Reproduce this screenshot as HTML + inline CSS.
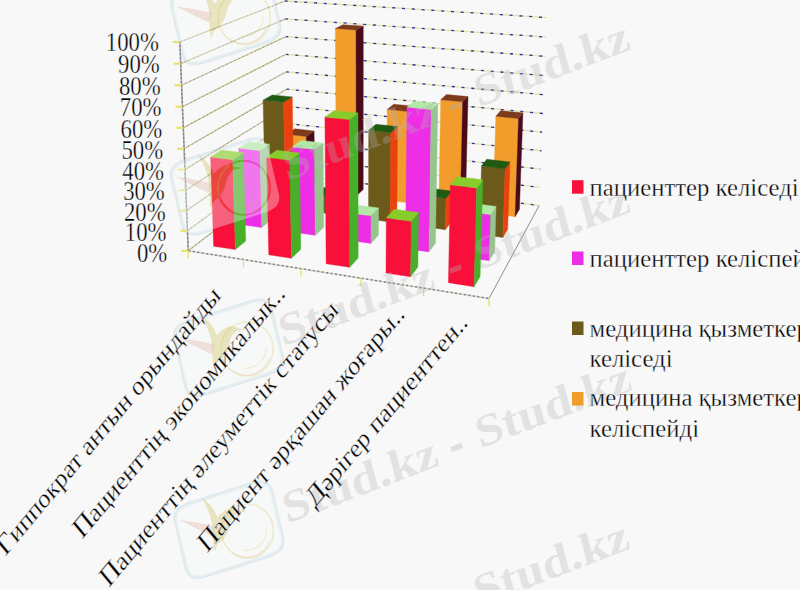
<!DOCTYPE html>
<html><head><meta charset="utf-8"><style>
html,body{margin:0;padding:0;background:#F8F8F8;}
body{width:800px;height:590px;overflow:hidden;position:relative;}
svg{position:absolute;left:0;top:0;}
text{font-family:"Liberation Serif",serif;fill:#000;stroke:#F8F8F8;stroke-width:0.3px;}
.wm text{fill:#B2B2B2;fill-opacity:0.32;stroke:none;}
</style></head><body>
<svg width="800" height="590" viewBox="0 0 800 590">
<rect width="800" height="590" fill="#F8F8F8"/>
<path transform="matrix(0.96,-0.305,0.17,0.72,169.30,-4.50)" d="M18,0 H82 Q100,0 100,18 V82 Q100,100 82,100 H18 Q0,100 0,82 V18 Q0,0 18,0 Z" fill="none" stroke="rgb(214,228,234)" stroke-opacity="0.7" stroke-width="3.6" vector-effect="non-scaling-stroke"/>
<path transform="matrix(0.96,-0.305,0.17,0.72,168.90,165.70)" d="M18,0 H82 Q100,0 100,18 V82 Q100,100 82,100 H18 Q0,100 0,82 V18 Q0,0 18,0 Z" fill="none" stroke="rgb(214,228,234)" stroke-opacity="0.7" stroke-width="3.6" vector-effect="non-scaling-stroke"/>
<path transform="matrix(0.96,-0.305,0.17,0.72,172.00,327.00)" d="M18,0 H82 Q100,0 100,18 V82 Q100,100 82,100 H18 Q0,100 0,82 V18 Q0,0 18,0 Z" fill="none" stroke="rgb(214,228,234)" stroke-opacity="0.7" stroke-width="3.6" vector-effect="non-scaling-stroke"/>
<path transform="matrix(0.96,-0.305,0.17,0.72,172.50,509.00)" d="M18,0 H82 Q100,0 100,18 V82 Q100,100 82,100 H18 Q0,100 0,82 V18 Q0,0 18,0 Z" fill="none" stroke="rgb(214,228,234)" stroke-opacity="0.7" stroke-width="3.6" vector-effect="non-scaling-stroke"/>
<line x1="288.08" y1="174.05" x2="539.17" y2="205.51" stroke="#E4E0A8" stroke-width="1.3"/>
<line x1="288.08" y1="174.05" x2="539.17" y2="205.51" stroke="#3030A0" stroke-width="1.3" stroke-dasharray="3 6.8" stroke-dashoffset="0.5"/>
<line x1="187.45" y1="230.79" x2="287.80" y2="157.34" stroke="#C2BE8A" stroke-width="1.2"/>
<line x1="187.45" y1="230.79" x2="287.80" y2="157.34" stroke="#4848A0" stroke-width="1.2" stroke-dasharray="1 3.5" stroke-opacity="0.4"/>
<line x1="287.80" y1="157.34" x2="539.90" y2="187.41" stroke="#E4E0A8" stroke-width="1.3"/>
<line x1="287.80" y1="157.34" x2="539.90" y2="187.41" stroke="#3030A0" stroke-width="1.3" stroke-dasharray="3 6.8" stroke-dashoffset="0.5"/>
<line x1="186.63" y1="210.59" x2="287.52" y2="140.50" stroke="#C2BE8A" stroke-width="1.2"/>
<line x1="186.63" y1="210.59" x2="287.52" y2="140.50" stroke="#4848A0" stroke-width="1.2" stroke-dasharray="1 3.5" stroke-opacity="0.4"/>
<line x1="287.52" y1="140.50" x2="540.65" y2="169.17" stroke="#E4E0A8" stroke-width="1.3"/>
<line x1="287.52" y1="140.50" x2="540.65" y2="169.17" stroke="#3030A0" stroke-width="1.3" stroke-dasharray="3 6.8" stroke-dashoffset="0.5"/>
<line x1="185.81" y1="190.20" x2="287.23" y2="123.53" stroke="#C2BE8A" stroke-width="1.2"/>
<line x1="185.81" y1="190.20" x2="287.23" y2="123.53" stroke="#4848A0" stroke-width="1.2" stroke-dasharray="1 3.5" stroke-opacity="0.4"/>
<line x1="287.23" y1="123.53" x2="541.39" y2="150.77" stroke="#E4E0A8" stroke-width="1.3"/>
<line x1="287.23" y1="123.53" x2="541.39" y2="150.77" stroke="#3030A0" stroke-width="1.3" stroke-dasharray="3 6.8" stroke-dashoffset="0.5"/>
<line x1="184.98" y1="169.62" x2="286.94" y2="106.43" stroke="#C2BE8A" stroke-width="1.2"/>
<line x1="184.98" y1="169.62" x2="286.94" y2="106.43" stroke="#4848A0" stroke-width="1.2" stroke-dasharray="1 3.5" stroke-opacity="0.4"/>
<line x1="286.94" y1="106.43" x2="542.15" y2="132.22" stroke="#E4E0A8" stroke-width="1.3"/>
<line x1="286.94" y1="106.43" x2="542.15" y2="132.22" stroke="#3030A0" stroke-width="1.3" stroke-dasharray="3 6.8" stroke-dashoffset="0.5"/>
<line x1="184.14" y1="148.84" x2="286.65" y2="89.20" stroke="#C2BE8A" stroke-width="1.2"/>
<line x1="184.14" y1="148.84" x2="286.65" y2="89.20" stroke="#4848A0" stroke-width="1.2" stroke-dasharray="1 3.5" stroke-opacity="0.4"/>
<line x1="286.65" y1="89.20" x2="542.91" y2="113.51" stroke="#E4E0A8" stroke-width="1.3"/>
<line x1="286.65" y1="89.20" x2="542.91" y2="113.51" stroke="#3030A0" stroke-width="1.3" stroke-dasharray="3 6.8" stroke-dashoffset="0.5"/>
<line x1="183.30" y1="127.87" x2="286.36" y2="71.84" stroke="#C2BE8A" stroke-width="1.2"/>
<line x1="183.30" y1="127.87" x2="286.36" y2="71.84" stroke="#4848A0" stroke-width="1.2" stroke-dasharray="1 3.5" stroke-opacity="0.4"/>
<line x1="286.36" y1="71.84" x2="543.67" y2="94.65" stroke="#E4E0A8" stroke-width="1.3"/>
<line x1="286.36" y1="71.84" x2="543.67" y2="94.65" stroke="#3030A0" stroke-width="1.3" stroke-dasharray="3 6.8" stroke-dashoffset="0.5"/>
<line x1="182.44" y1="106.69" x2="286.06" y2="54.33" stroke="#C2BE8A" stroke-width="1.2"/>
<line x1="182.44" y1="106.69" x2="286.06" y2="54.33" stroke="#4848A0" stroke-width="1.2" stroke-dasharray="1 3.5" stroke-opacity="0.4"/>
<line x1="286.06" y1="54.33" x2="544.45" y2="75.62" stroke="#E4E0A8" stroke-width="1.3"/>
<line x1="286.06" y1="54.33" x2="544.45" y2="75.62" stroke="#3030A0" stroke-width="1.3" stroke-dasharray="3 6.8" stroke-dashoffset="0.5"/>
<line x1="181.58" y1="85.32" x2="285.76" y2="36.70" stroke="#C2BE8A" stroke-width="1.2"/>
<line x1="181.58" y1="85.32" x2="285.76" y2="36.70" stroke="#4848A0" stroke-width="1.2" stroke-dasharray="1 3.5" stroke-opacity="0.4"/>
<line x1="285.76" y1="36.70" x2="545.23" y2="56.43" stroke="#E4E0A8" stroke-width="1.3"/>
<line x1="285.76" y1="36.70" x2="545.23" y2="56.43" stroke="#3030A0" stroke-width="1.3" stroke-dasharray="3 6.8" stroke-dashoffset="0.5"/>
<line x1="180.71" y1="63.73" x2="285.46" y2="18.92" stroke="#C2BE8A" stroke-width="1.2"/>
<line x1="180.71" y1="63.73" x2="285.46" y2="18.92" stroke="#4848A0" stroke-width="1.2" stroke-dasharray="1 3.5" stroke-opacity="0.4"/>
<line x1="285.46" y1="18.92" x2="546.01" y2="37.07" stroke="#E4E0A8" stroke-width="1.3"/>
<line x1="285.46" y1="18.92" x2="546.01" y2="37.07" stroke="#3030A0" stroke-width="1.3" stroke-dasharray="3 6.8" stroke-dashoffset="0.5"/>
<line x1="179.83" y1="41.94" x2="285.16" y2="1.00" stroke="#C2BE8A" stroke-width="1.2"/>
<line x1="179.83" y1="41.94" x2="285.16" y2="1.00" stroke="#4848A0" stroke-width="1.2" stroke-dasharray="1 3.5" stroke-opacity="0.4"/>
<line x1="285.16" y1="1.00" x2="546.81" y2="17.55" stroke="#E4E0A8" stroke-width="1.3"/>
<line x1="285.16" y1="1.00" x2="546.81" y2="17.55" stroke="#3030A0" stroke-width="1.3" stroke-dasharray="3 6.8" stroke-dashoffset="0.5"/>
<line x1="188.26" y1="250.80" x2="288.08" y2="174.05" stroke="#C2BE8A" stroke-width="1.2"/>
<line x1="188.26" y1="250.80" x2="288.08" y2="174.05" stroke="#4848A0" stroke-width="1.2" stroke-dasharray="1 3.5" stroke-opacity="0.4"/>
<line x1="188.26" y1="250.80" x2="489.00" y2="298.47" stroke="#DCDAB0" stroke-width="1.5"/>
<line x1="188.26" y1="250.80" x2="489.00" y2="298.47" stroke="#5858A0" stroke-width="1.5" stroke-dasharray="2.2 2.3" stroke-opacity="0.7"/>
<line x1="489.00" y1="298.47" x2="539.17" y2="205.51" stroke="#8C8C98" stroke-width="1.0"/>
<line x1="188.26" y1="250.80" x2="179.83" y2="41.94" stroke="#A8A498" stroke-width="1.5"/>
<line x1="188.26" y1="250.80" x2="179.83" y2="41.94" stroke="#50509C" stroke-width="1.5" stroke-dasharray="1.5 2.5" stroke-opacity="0.6"/>
<line x1="181.26" y1="250.80" x2="188.26" y2="250.80" stroke="#E8E060" stroke-width="2"/>
<line x1="180.45" y1="230.79" x2="187.45" y2="230.79" stroke="#E8E060" stroke-width="2"/>
<line x1="179.63" y1="210.59" x2="186.63" y2="210.59" stroke="#E8E060" stroke-width="2"/>
<line x1="178.81" y1="190.20" x2="185.81" y2="190.20" stroke="#E8E060" stroke-width="2"/>
<line x1="177.98" y1="169.62" x2="184.98" y2="169.62" stroke="#E8E060" stroke-width="2"/>
<line x1="177.14" y1="148.84" x2="184.14" y2="148.84" stroke="#E8E060" stroke-width="2"/>
<line x1="176.30" y1="127.87" x2="183.30" y2="127.87" stroke="#E8E060" stroke-width="2"/>
<line x1="175.44" y1="106.69" x2="182.44" y2="106.69" stroke="#E8E060" stroke-width="2"/>
<line x1="174.58" y1="85.32" x2="181.58" y2="85.32" stroke="#E8E060" stroke-width="2"/>
<line x1="173.71" y1="63.73" x2="180.71" y2="63.73" stroke="#E8E060" stroke-width="2"/>
<line x1="172.83" y1="41.94" x2="179.83" y2="41.94" stroke="#E8E060" stroke-width="2"/>
<line x1="188.26" y1="250.80" x2="188.26" y2="258.80" stroke="#E8E060" stroke-width="1.2"/>
<line x1="243.46" y1="259.55" x2="243.46" y2="267.55" stroke="#E8E060" stroke-width="1.2"/>
<line x1="300.98" y1="268.67" x2="300.98" y2="276.67" stroke="#E8E060" stroke-width="1.2"/>
<line x1="360.97" y1="278.18" x2="360.97" y2="286.18" stroke="#E8E060" stroke-width="1.2"/>
<line x1="423.58" y1="288.10" x2="423.58" y2="296.10" stroke="#E8E060" stroke-width="1.2"/>
<line x1="489.00" y1="298.47" x2="489.00" y2="306.47" stroke="#E8E060" stroke-width="1.2"/>
<polygon points="287.75,187.12 306.99,189.62 306.32,136.49 286.85,134.33" fill="#F29C2C" stroke="#F29C2C" stroke-width="0.4" stroke-linejoin="round"/>
<polygon points="306.99,189.62 314.65,183.21 314.09,130.94 306.32,136.49" fill="#4A0A18" stroke="#4A0A18" stroke-width="0.4" stroke-linejoin="round"/>
<polygon points="286.85,134.33 306.32,136.49 314.09,130.94 294.91,128.85" fill="#7E3A1C" stroke="#7E3A1C" stroke-width="0.4" stroke-linejoin="round"/>
<polygon points="336.36,193.44 356.28,196.03 356.05,29.93 335.38,28.45" fill="#F29C2C" stroke="#F29C2C" stroke-width="0.4" stroke-linejoin="round"/>
<polygon points="356.28,196.03 363.20,189.39 363.24,26.10 356.05,29.93" fill="#4A0A18" stroke="#4A0A18" stroke-width="0.4" stroke-linejoin="round"/>
<polygon points="335.38,28.45 356.05,29.93 363.24,26.10 342.89,24.67" fill="#7E3A1C" stroke="#7E3A1C" stroke-width="0.4" stroke-linejoin="round"/>
<polygon points="386.69,199.98 407.33,202.67 408.27,111.53 387.20,109.45" fill="#F29C2C" stroke="#F29C2C" stroke-width="0.4" stroke-linejoin="round"/>
<polygon points="407.33,202.67 413.45,195.79 414.50,106.19 408.27,111.53" fill="#4A0A18" stroke="#4A0A18" stroke-width="0.4" stroke-linejoin="round"/>
<polygon points="387.20,109.45 408.27,111.53 414.50,106.19 393.77,104.19" fill="#7E3A1C" stroke="#7E3A1C" stroke-width="0.4" stroke-linejoin="round"/>
<polygon points="265.45,204.89 285.47,207.65 283.61,102.17 263.12,100.13" fill="#6B5A1A" stroke="#6B5A1A" stroke-width="0.4" stroke-linejoin="round"/>
<polygon points="285.47,207.65 293.89,200.59 292.27,96.93 283.61,102.17" fill="#E8420E" stroke="#E8420E" stroke-width="0.4" stroke-linejoin="round"/>
<polygon points="263.12,100.13 283.61,102.17 292.27,96.93 272.10,94.96" fill="#1E5A12" stroke="#1E5A12" stroke-width="0.4" stroke-linejoin="round"/>
<polygon points="438.84,206.76 460.23,209.54 462.66,101.82 440.72,99.77" fill="#F29C2C" stroke="#F29C2C" stroke-width="0.4" stroke-linejoin="round"/>
<polygon points="460.23,209.54 465.49,202.42 468.00,96.55 462.66,101.82" fill="#4A0A18" stroke="#4A0A18" stroke-width="0.4" stroke-linejoin="round"/>
<polygon points="440.72,99.77 462.66,101.82 468.00,96.55 446.43,94.57" fill="#7E3A1C" stroke="#7E3A1C" stroke-width="0.4" stroke-linejoin="round"/>
<polygon points="492.91,213.79 515.10,216.67 518.56,118.52 495.84,116.31" fill="#F29C2C" stroke="#F29C2C" stroke-width="0.4" stroke-linejoin="round"/>
<polygon points="515.10,216.67 519.43,209.28 522.91,112.85 518.56,118.52" fill="#4A0A18" stroke="#4A0A18" stroke-width="0.4" stroke-linejoin="round"/>
<polygon points="495.84,116.31 518.56,118.52 522.91,112.85 500.60,110.72" fill="#7E3A1C" stroke="#7E3A1C" stroke-width="0.4" stroke-linejoin="round"/>
<polygon points="316.06,211.85 336.82,214.70 336.72,197.15 315.87,194.42" fill="#6B5A1A" stroke="#6B5A1A" stroke-width="0.4" stroke-linejoin="round"/>
<polygon points="336.82,214.70 344.44,207.39 344.37,190.14 336.72,197.15" fill="#E8420E" stroke="#E8420E" stroke-width="0.4" stroke-linejoin="round"/>
<polygon points="315.87,194.42 336.72,197.15 344.37,190.14 323.85,187.50" fill="#1E5A12" stroke="#1E5A12" stroke-width="0.4" stroke-linejoin="round"/>
<polygon points="368.55,219.07 390.10,222.03 390.67,132.63 368.68,130.29" fill="#6B5A1A" stroke="#6B5A1A" stroke-width="0.4" stroke-linejoin="round"/>
<polygon points="390.10,222.03 396.85,214.44 397.55,126.62 390.67,132.63" fill="#E8420E" stroke="#E8420E" stroke-width="0.4" stroke-linejoin="round"/>
<polygon points="368.68,130.29 390.67,132.63 397.55,126.62 375.92,124.37" fill="#1E5A12" stroke="#1E5A12" stroke-width="0.4" stroke-linejoin="round"/>
<polygon points="240.87,224.48 261.73,227.53 259.95,150.60 238.73,148.09" fill="#EE2EE6" stroke="#EE2EE6" stroke-width="0.4" stroke-linejoin="round"/>
<polygon points="261.73,227.53 271.04,219.74 269.45,144.17 259.95,150.60" fill="#96C68E" stroke="#96C68E" stroke-width="0.4" stroke-linejoin="round"/>
<polygon points="238.73,148.09 259.95,150.60 269.45,144.17 248.57,141.77" fill="#B2E8A8" stroke="#B2E8A8" stroke-width="0.4" stroke-linejoin="round"/>
<polygon points="423.04,226.55 445.41,229.63 446.01,198.37 423.47,195.51" fill="#6B5A1A" stroke="#6B5A1A" stroke-width="0.4" stroke-linejoin="round"/>
<polygon points="445.41,229.63 451.22,221.76 451.85,191.05 446.01,198.37" fill="#E8420E" stroke="#E8420E" stroke-width="0.4" stroke-linejoin="round"/>
<polygon points="423.47,195.51 446.01,198.37 451.85,191.05 429.70,188.30" fill="#1E5A12" stroke="#1E5A12" stroke-width="0.4" stroke-linejoin="round"/>
<polygon points="479.63,234.33 502.89,237.53 505.13,168.83 481.48,166.12" fill="#6B5A1A" stroke="#6B5A1A" stroke-width="0.4" stroke-linejoin="round"/>
<polygon points="502.89,237.53 507.68,229.35 509.95,161.89 505.13,168.83" fill="#E8420E" stroke="#E8420E" stroke-width="0.4" stroke-linejoin="round"/>
<polygon points="481.48,166.12 505.13,168.83 509.95,161.89 486.74,159.29" fill="#1E5A12" stroke="#1E5A12" stroke-width="0.4" stroke-linejoin="round"/>
<polygon points="293.63,232.18 315.32,235.34 314.39,149.43 292.28,146.88" fill="#EE2EE6" stroke="#EE2EE6" stroke-width="0.4" stroke-linejoin="round"/>
<polygon points="315.32,235.34 323.75,227.25 323.00,142.89 314.39,149.43" fill="#96C68E" stroke="#96C68E" stroke-width="0.4" stroke-linejoin="round"/>
<polygon points="292.28,146.88 314.39,149.43 323.00,142.89 301.27,140.44" fill="#B2E8A8" stroke="#B2E8A8" stroke-width="0.4" stroke-linejoin="round"/>
<polygon points="348.48,240.18 371.02,243.46 371.08,215.82 348.39,212.73" fill="#EE2EE6" stroke="#EE2EE6" stroke-width="0.4" stroke-linejoin="round"/>
<polygon points="371.02,243.46 378.51,235.05 378.61,207.91 371.08,215.82" fill="#96C68E" stroke="#96C68E" stroke-width="0.4" stroke-linejoin="round"/>
<polygon points="348.39,212.73 371.08,215.82 378.61,207.91 356.31,204.94" fill="#B2E8A8" stroke="#B2E8A8" stroke-width="0.4" stroke-linejoin="round"/>
<polygon points="213.63,246.18 235.41,249.56 232.77,159.70 210.56,156.98" fill="#F8103A" stroke="#F8103A" stroke-width="0.4" stroke-linejoin="round"/>
<polygon points="235.41,249.56 245.74,240.91 243.37,152.73 232.77,159.70" fill="#48B028" stroke="#48B028" stroke-width="0.4" stroke-linejoin="round"/>
<polygon points="210.56,156.98 232.77,159.70 243.37,152.73 221.53,150.12" fill="#88CC2C" stroke="#88CC2C" stroke-width="0.4" stroke-linejoin="round"/>
<polygon points="405.52,248.49 428.98,251.91 431.18,109.51 406.94,107.15" fill="#EE2EE6" stroke="#EE2EE6" stroke-width="0.4" stroke-linejoin="round"/>
<polygon points="428.98,251.91 435.43,243.17 437.80,103.47 431.18,109.51" fill="#96C68E" stroke="#96C68E" stroke-width="0.4" stroke-linejoin="round"/>
<polygon points="406.94,107.15 431.18,109.51 437.80,103.47 414.00,101.21" fill="#B2E8A8" stroke="#B2E8A8" stroke-width="0.4" stroke-linejoin="round"/>
<polygon points="268.75,254.74 291.43,258.26 289.81,160.15 266.64,157.36" fill="#F8103A" stroke="#F8103A" stroke-width="0.4" stroke-linejoin="round"/>
<polygon points="291.43,258.26 300.81,249.26 299.44,153.01 289.81,160.15" fill="#48B028" stroke="#48B028" stroke-width="0.4" stroke-linejoin="round"/>
<polygon points="266.64,157.36 289.81,160.15 299.44,153.01 276.67,150.34" fill="#88CC2C" stroke="#88CC2C" stroke-width="0.4" stroke-linejoin="round"/>
<polygon points="464.89,257.15 489.32,260.71 490.68,214.65 465.98,211.43" fill="#EE2EE6" stroke="#EE2EE6" stroke-width="0.4" stroke-linejoin="round"/>
<polygon points="489.32,260.71 494.65,251.61 496.04,206.41 490.68,214.65" fill="#96C68E" stroke="#96C68E" stroke-width="0.4" stroke-linejoin="round"/>
<polygon points="465.98,211.43 490.68,214.65 496.04,206.41 471.81,203.32" fill="#B2E8A8" stroke="#B2E8A8" stroke-width="0.4" stroke-linejoin="round"/>
<polygon points="326.15,263.66 349.79,267.33 349.36,119.53 324.92,117.00" fill="#F8103A" stroke="#F8103A" stroke-width="0.4" stroke-linejoin="round"/>
<polygon points="349.79,267.33 358.13,257.95 358.00,113.05 349.36,119.53" fill="#48B028" stroke="#48B028" stroke-width="0.4" stroke-linejoin="round"/>
<polygon points="324.92,117.00 349.36,119.53 358.00,113.05 334.01,110.63" fill="#88CC2C" stroke="#88CC2C" stroke-width="0.4" stroke-linejoin="round"/>
<polygon points="385.99,272.95 410.64,276.78 411.27,221.23 386.29,217.82" fill="#F8103A" stroke="#F8103A" stroke-width="0.4" stroke-linejoin="round"/>
<polygon points="410.64,276.78 417.85,267.00 418.56,212.53 411.27,221.23" fill="#48B028" stroke="#48B028" stroke-width="0.4" stroke-linejoin="round"/>
<polygon points="386.29,217.82 411.27,221.23 418.56,212.53 394.06,209.28" fill="#88CC2C" stroke="#88CC2C" stroke-width="0.4" stroke-linejoin="round"/>
<polygon points="448.41,282.64 474.14,286.64 476.73,188.02 450.38,184.81" fill="#F8103A" stroke="#F8103A" stroke-width="0.4" stroke-linejoin="round"/>
<polygon points="474.14,286.64 480.12,276.43 482.78,179.80 476.73,188.02" fill="#48B028" stroke="#48B028" stroke-width="0.4" stroke-linejoin="round"/>
<polygon points="450.38,184.81 476.73,188.02 482.78,179.80 456.97,176.73" fill="#88CC2C" stroke="#88CC2C" stroke-width="0.4" stroke-linejoin="round"/>
<defs><mask id="m0" maskUnits="userSpaceOnUse" x="0" y="0" width="800" height="590"><rect width="800" height="590" fill="#fff"/><g transform="translate(244.3,17.5)"><path transform="scale(1.12)" d="M-40.5,-29.6 Q-30,-22 -27,-12 Q-22,-19 -14,-20.5 Q-10,-20.5 -8,-18.5 L-1,-17.5 L-9,-16 Q-15,-12 -16,-4 Q-18,6 -27,12 L-30,19 Q-31,8 -31,-2 Q-32,-14 -40.5,-29.6 Z" fill="#000"/><ellipse rx="26" ry="27" fill="none" stroke="#000" stroke-width="2"/></g></mask><mask id="m1" maskUnits="userSpaceOnUse" x="0" y="0" width="800" height="590"><rect width="800" height="590" fill="#fff"/><g transform="translate(243.9,187.7)"><path transform="scale(1.12)" d="M-40.5,-29.6 Q-30,-22 -27,-12 Q-22,-19 -14,-20.5 Q-10,-20.5 -8,-18.5 L-1,-17.5 L-9,-16 Q-15,-12 -16,-4 Q-18,6 -27,12 L-30,19 Q-31,8 -31,-2 Q-32,-14 -40.5,-29.6 Z" fill="#000"/><ellipse rx="26" ry="27" fill="none" stroke="#000" stroke-width="2"/></g></mask><mask id="m2" maskUnits="userSpaceOnUse" x="0" y="0" width="800" height="590"><rect width="800" height="590" fill="#fff"/><g transform="translate(247,349)"><path transform="scale(1.12)" d="M-40.5,-29.6 Q-30,-22 -27,-12 Q-22,-19 -14,-20.5 Q-10,-20.5 -8,-18.5 L-1,-17.5 L-9,-16 Q-15,-12 -16,-4 Q-18,6 -27,12 L-30,19 Q-31,8 -31,-2 Q-32,-14 -40.5,-29.6 Z" fill="#000"/><ellipse rx="26" ry="27" fill="none" stroke="#000" stroke-width="2"/></g></mask><mask id="m3" maskUnits="userSpaceOnUse" x="0" y="0" width="800" height="590"><rect width="800" height="590" fill="#fff"/><g transform="translate(247.5,531)"><path transform="scale(1.12)" d="M-40.5,-29.6 Q-30,-22 -27,-12 Q-22,-19 -14,-20.5 Q-10,-20.5 -8,-18.5 L-1,-17.5 L-9,-16 Q-15,-12 -16,-4 Q-18,6 -27,12 L-30,19 Q-31,8 -31,-2 Q-32,-14 -40.5,-29.6 Z" fill="#000"/><ellipse rx="26" ry="27" fill="none" stroke="#000" stroke-width="2"/></g></mask></defs>
<g mask="url(#m0)"><path transform="matrix(0.96,-0.305,0.17,0.72,169.30,-4.50)" d="M18,0 H82 Q100,0 100,18 V82 Q100,100 82,100 H18 Q0,100 0,82 V18 Q0,0 18,0 Z" fill="rgb(246,250,250)" fill-opacity="0.35"/></g>
<g transform="translate(244.3,17.5)">
<path transform="scale(1.12)" d="M-61,-10 Q-46,-8 -29,-4 L-31,5 Q-46,-2 -61,-10 Z" fill="rgb(225,169,156)" fill-opacity="0.32"/>
<path transform="scale(1.12)" d="M-40.5,-29.6 Q-30,-22 -27,-12 Q-22,-19 -14,-20.5 Q-10,-20.5 -8,-18.5 L-1,-17.5 L-9,-16 Q-15,-12 -16,-4 Q-18,6 -27,12 L-30,19 Q-31,8 -31,-2 Q-32,-14 -40.5,-29.6 Z" fill="rgb(200,188,75)" fill-opacity="0.32"/>
<ellipse cx="0" cy="0" rx="26" ry="27" fill="none" stroke="rgb(205,200,70)" stroke-opacity="0.25" stroke-width="1.6"/>
<path d="M-14,22 A24,24 0 0 0 22,10" fill="none" stroke="rgb(230,170,160)" stroke-opacity="0.25" stroke-width="1.3"/>
<path d="M-4,19 A20,20 0 0 0 19,-2" fill="none" stroke="rgb(205,200,70)" stroke-opacity="0.22" stroke-width="1.2"/>
</g>
<g mask="url(#m1)"><path transform="matrix(0.96,-0.305,0.17,0.72,168.90,165.70)" d="M18,0 H82 Q100,0 100,18 V82 Q100,100 82,100 H18 Q0,100 0,82 V18 Q0,0 18,0 Z" fill="rgb(246,250,250)" fill-opacity="0.35"/></g>
<g transform="translate(243.9,187.7)">
<path transform="scale(1.12)" d="M-61,-10 Q-46,-8 -29,-4 L-31,5 Q-46,-2 -61,-10 Z" fill="rgb(225,169,156)" fill-opacity="0.32"/>
<path transform="scale(1.12)" d="M-40.5,-29.6 Q-30,-22 -27,-12 Q-22,-19 -14,-20.5 Q-10,-20.5 -8,-18.5 L-1,-17.5 L-9,-16 Q-15,-12 -16,-4 Q-18,6 -27,12 L-30,19 Q-31,8 -31,-2 Q-32,-14 -40.5,-29.6 Z" fill="rgb(200,188,75)" fill-opacity="0.32"/>
<ellipse cx="0" cy="0" rx="26" ry="27" fill="none" stroke="rgb(205,200,70)" stroke-opacity="0.25" stroke-width="1.6"/>
<path d="M-14,22 A24,24 0 0 0 22,10" fill="none" stroke="rgb(230,170,160)" stroke-opacity="0.25" stroke-width="1.3"/>
<path d="M-4,19 A20,20 0 0 0 19,-2" fill="none" stroke="rgb(205,200,70)" stroke-opacity="0.22" stroke-width="1.2"/>
</g>
<g mask="url(#m2)"><path transform="matrix(0.96,-0.305,0.17,0.72,172.00,327.00)" d="M18,0 H82 Q100,0 100,18 V82 Q100,100 82,100 H18 Q0,100 0,82 V18 Q0,0 18,0 Z" fill="rgb(246,250,250)" fill-opacity="0.35"/></g>
<g transform="translate(247,349)">
<path transform="scale(1.12)" d="M-61,-10 Q-46,-8 -29,-4 L-31,5 Q-46,-2 -61,-10 Z" fill="rgb(225,169,156)" fill-opacity="0.32"/>
<path transform="scale(1.12)" d="M-40.5,-29.6 Q-30,-22 -27,-12 Q-22,-19 -14,-20.5 Q-10,-20.5 -8,-18.5 L-1,-17.5 L-9,-16 Q-15,-12 -16,-4 Q-18,6 -27,12 L-30,19 Q-31,8 -31,-2 Q-32,-14 -40.5,-29.6 Z" fill="rgb(200,188,75)" fill-opacity="0.32"/>
<ellipse cx="0" cy="0" rx="26" ry="27" fill="none" stroke="rgb(205,200,70)" stroke-opacity="0.25" stroke-width="1.6"/>
<path d="M-14,22 A24,24 0 0 0 22,10" fill="none" stroke="rgb(230,170,160)" stroke-opacity="0.25" stroke-width="1.3"/>
<path d="M-4,19 A20,20 0 0 0 19,-2" fill="none" stroke="rgb(205,200,70)" stroke-opacity="0.22" stroke-width="1.2"/>
</g>
<g mask="url(#m3)"><path transform="matrix(0.96,-0.305,0.17,0.72,172.50,509.00)" d="M18,0 H82 Q100,0 100,18 V82 Q100,100 82,100 H18 Q0,100 0,82 V18 Q0,0 18,0 Z" fill="rgb(246,250,250)" fill-opacity="0.35"/></g>
<g transform="translate(247.5,531)">
<path transform="scale(1.12)" d="M-61,-10 Q-46,-8 -29,-4 L-31,5 Q-46,-2 -61,-10 Z" fill="rgb(225,169,156)" fill-opacity="0.32"/>
<path transform="scale(1.12)" d="M-40.5,-29.6 Q-30,-22 -27,-12 Q-22,-19 -14,-20.5 Q-10,-20.5 -8,-18.5 L-1,-17.5 L-9,-16 Q-15,-12 -16,-4 Q-18,6 -27,12 L-30,19 Q-31,8 -31,-2 Q-32,-14 -40.5,-29.6 Z" fill="rgb(200,188,75)" fill-opacity="0.32"/>
<ellipse cx="0" cy="0" rx="26" ry="27" fill="none" stroke="rgb(205,200,70)" stroke-opacity="0.25" stroke-width="1.6"/>
<path d="M-14,22 A24,24 0 0 0 22,10" fill="none" stroke="rgb(230,170,160)" stroke-opacity="0.25" stroke-width="1.3"/>
<path d="M-4,19 A20,20 0 0 0 19,-2" fill="none" stroke="rgb(205,200,70)" stroke-opacity="0.22" stroke-width="1.2"/>
</g>
<g class="wm" fill="#B2B2B2" fill-opacity="0.345" style="font-family:'Liberation Serif',serif"><text transform="translate(386.60,139.60) scale(1,1.2) rotate(-17.7) translate(-105.28,2.7)" font-size="38" font-weight="bold" textLength="161" lengthAdjust="spacingAndGlyphs">Stud.kz</text>
<text transform="translate(382.50,305.00) scale(1,1.2) rotate(-17.7) translate(-105.28,2.7)" font-size="38" font-weight="bold" textLength="161" lengthAdjust="spacingAndGlyphs">Stud.kz</text>
<text transform="translate(386.40,482.30) scale(1,1.2) rotate(-17.7) translate(-105.28,2.7)" font-size="38" font-weight="bold" textLength="161" lengthAdjust="spacingAndGlyphs">Stud.kz</text>
<text transform="translate(384.50,650.00) scale(1,1.2) rotate(-17.7) translate(-105.28,2.7)" font-size="38" font-weight="bold" textLength="161" lengthAdjust="spacingAndGlyphs">Stud.kz</text>
<text transform="translate(578.10,66.10) scale(1,1.2) rotate(-17.7) translate(-105.28,2.7)" font-size="38" font-weight="bold" textLength="161" lengthAdjust="spacingAndGlyphs">Stud.kz</text>
<rect x="-6" y="-2.2" width="12" height="4.4" transform="translate(455.30,106.40) scale(1,1.2) rotate(-17.7)"/>
<text transform="translate(578.40,228.70) scale(1,1.2) rotate(-17.7) translate(-105.28,2.7)" font-size="38" font-weight="bold" textLength="161" lengthAdjust="spacingAndGlyphs">Stud.kz</text>
<rect x="-6" y="-2.2" width="12" height="4.4" transform="translate(455.60,269.00) scale(1,1.2) rotate(-17.7)"/>
<text transform="translate(579.50,407.00) scale(1,1.2) rotate(-17.7) translate(-105.28,2.7)" font-size="38" font-weight="bold" textLength="161" lengthAdjust="spacingAndGlyphs">Stud.kz</text>
<rect x="-6" y="-2.2" width="12" height="4.4" transform="translate(456.70,447.30) scale(1,1.2) rotate(-17.7)"/>
<text transform="translate(577.50,565.50) scale(1,1.2) rotate(-17.7) translate(-105.28,2.7)" font-size="38" font-weight="bold" textLength="161" lengthAdjust="spacingAndGlyphs">Stud.kz</text>
<rect x="-6" y="-2.2" width="12" height="4.4" transform="translate(454.70,605.80) scale(1,1.2) rotate(-17.7)"/></g>
<text transform="translate(167.26,261.60) scale(1.02,1.23)" text-anchor="end" font-size="22.3">0%</text>
<text transform="translate(166.45,241.41) scale(1.02,1.23)" text-anchor="end" font-size="22.3">10%</text>
<text transform="translate(165.63,221.03) scale(1.02,1.23)" text-anchor="end" font-size="22.3">20%</text>
<text transform="translate(164.81,200.46) scale(1.02,1.23)" text-anchor="end" font-size="22.3">30%</text>
<text transform="translate(163.98,179.70) scale(1.02,1.23)" text-anchor="end" font-size="22.3">40%</text>
<text transform="translate(163.14,158.74) scale(1.02,1.23)" text-anchor="end" font-size="22.3">50%</text>
<text transform="translate(162.30,137.59) scale(1.02,1.23)" text-anchor="end" font-size="22.3">60%</text>
<text transform="translate(161.44,116.23) scale(1.02,1.23)" text-anchor="end" font-size="22.3">70%</text>
<text transform="translate(160.58,94.68) scale(1.02,1.23)" text-anchor="end" font-size="22.3">80%</text>
<text transform="translate(159.71,72.91) scale(1.02,1.23)" text-anchor="end" font-size="22.3">90%</text>
<text transform="translate(158.83,50.94) scale(1.02,1.23)" text-anchor="end" font-size="22.3">100%</text>
<text transform="translate(5.27,556.76) scale(1,1.2) rotate(-45) scale(1,1.0)" font-size="22.3" textLength="306.21" lengthAdjust="spacingAndGlyphs"><tspan font-size="24.53">Г</tspan>иппократ антын орындайды</text>
<text transform="translate(81.91,539.87) scale(1,1.2) rotate(-45) scale(1,1.0)" font-size="22.3" textLength="288.94" lengthAdjust="spacingAndGlyphs"><tspan font-size="24.53">П</tspan>ациенттің экономикалык..</text>
<text transform="translate(108.71,588.37) scale(1,1.2) rotate(-45) scale(1,1.0)" font-size="22.3" textLength="326.59" lengthAdjust="spacingAndGlyphs"><tspan font-size="24.53">П</tspan>ациенттің әлеуметтік статусы</text>
<text transform="translate(206.91,553.87) scale(1,1.2) rotate(-45) scale(1,1.0)" font-size="22.3" textLength="281.24" lengthAdjust="spacingAndGlyphs"><tspan font-size="24.53">П</tspan>ациент әрқашан жоғары..</text>
<text transform="translate(314.86,508.57) scale(1,1.2) rotate(-45) scale(1,1.0)" font-size="22.3" textLength="217.70" lengthAdjust="spacingAndGlyphs"><tspan font-size="24.53">Д</tspan>әрігер пациенттен..</text>
<rect x="572" y="180.2" width="11.5" height="13.5" fill="#F8103A"/>
<text transform="translate(589.5,196.35) scale(1,1.12)" font-size="22.3" textLength="209.16" lengthAdjust="spacingAndGlyphs">пациенттер келіседі</text>
<rect x="572" y="251.5" width="11.5" height="13.5" fill="#EE2EE6"/>
<text transform="translate(589.5,266.5) scale(1,1.12)" font-size="22.3" textLength="235.68" lengthAdjust="spacingAndGlyphs">пациенттер келіспейді</text>
<rect x="572" y="321.5" width="11.5" height="13.5" fill="#6B5A1A"/>
<text transform="translate(589.5,336.5) scale(1,1.12)" font-size="22.3" textLength="261.64" lengthAdjust="spacingAndGlyphs">медицина қызметкерлері</text>
<text transform="translate(589.5,367.4) scale(1,1.12)" font-size="22.3" textLength="83.04" lengthAdjust="spacingAndGlyphs">келіседі</text>
<rect x="572" y="392.0" width="11.5" height="13.5" fill="#F29C2C"/>
<text transform="translate(589.5,406.4) scale(1,1.12)" font-size="22.3" textLength="261.64" lengthAdjust="spacingAndGlyphs">медицина қызметкерлері</text>
<text transform="translate(589.5,437.0) scale(1,1.12)" font-size="22.3" textLength="109.55" lengthAdjust="spacingAndGlyphs">келіспейді</text>
</svg>
</body></html>
